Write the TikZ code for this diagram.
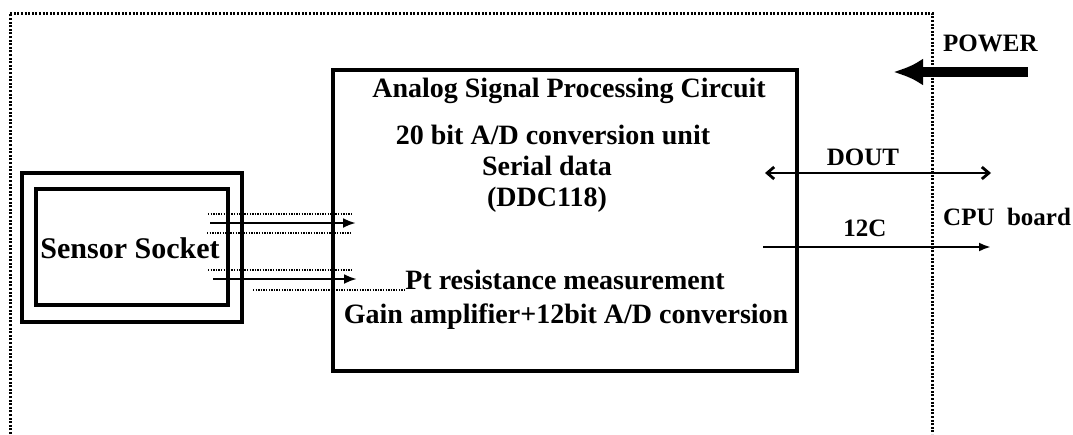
\documentclass[tikz,border=0pt]{standalone}
\usepackage{fontspec}
\setmainfont{Liberation Serif}
\usetikzlibrary{arrows.meta}
\begin{document}
\begin{tikzpicture}[x=1pt,y=-1pt,line cap=butt,line join=miter,
  txt/.style={font=\fontsize{28}{30}\selectfont\bfseries,inner sep=0pt},
  side/.style={font=\fontsize{25}{28}\selectfont\bfseries,inner sep=0pt},
  boxline/.style={line width=3.4pt},
  dotline/.style={line width=1.5pt,dash pattern=on 1.4pt off 1.2pt},
  sig/.style={line width=2.8pt,-{Latex[length=13pt,width=10pt]}}]
\useasboundingbox (0,0) rectangle (1073,434);

% --- outer dotted frame ---
\draw[line width=3pt,dash pattern=on 2pt off 1.6pt] (10,434) -- (10,13) -- (932,13) -- (932,434);

% --- sensor socket ---
\draw[boxline] (22,173) rectangle (242,322);
\draw[boxline] (36,189) rectangle (228,305);
\node[txt,font=\fontsize{30}{32}\selectfont\bfseries] (socket) at (130,248) {Sensor Socket};

% --- analog signal processing box ---
\draw[boxline] (333,70) rectangle (797,371);
\node[txt] (title) at (569,91) {Analog Signal Processing Circuit};
\node[txt] (adc) at (553,135) {20 bit A/D conversion unit};
\node[txt] (serial) at (547,166) {Serial data};
\node[txt] (ddc) at (547,200) {(DDC118)};
\node[txt] (pt) at (565,280) {Pt resistance measurement};
\node[txt] (gain) at (566,317) {Gain amplifier+12bit A/D conversion};

% --- sensor lines ---
\coordinate (s1) at (210,223); \coordinate (e1) at (356,223);
\coordinate (s2) at (213,279); \coordinate (e2) at (357,279);
\draw[sig] (s1) -- (e1);
\draw[sig] (s2) -- (e2);
\draw[dotline] (208,214) -- (353,214);
\draw[dotline] (207,233) -- (351,233);
\draw[dotline] (208,270) -- (353,270);
\draw[dotline] (253,290) -- (pt.west |- 0,290);

% --- outputs to CPU board ---
\coordinate (d1) at (765,173); \coordinate (d2) at (991,173);
\coordinate (c1) at (763,247); \coordinate (c2) at (991,247);
\draw[line width=2.8pt,{Straight Barb[length=7pt,width=12pt]}-{Straight Barb[length=7pt,width=12pt]}] (d1) -- (d2);
\draw[line width=2.8pt,-{Latex[length=12pt,width=9pt]}] (c1) -- (c2);
\node[side] (dout) at (863,157) {DOUT};
\node[side] (iic) at (865,228) {12C};
\node[side,anchor=west] (cpu) at (943,217) {CPU\ \ board};

% --- power input ---
\node[side,anchor=west] (power) at (943,43) {POWER};
\coordinate (p1) at (1028,72); \coordinate (p2) at (893,72);
\draw[line width=10pt,-{Latex[length=30pt,width=27pt]}] (p1) -- (p2);

\end{tikzpicture}
\end{document}
